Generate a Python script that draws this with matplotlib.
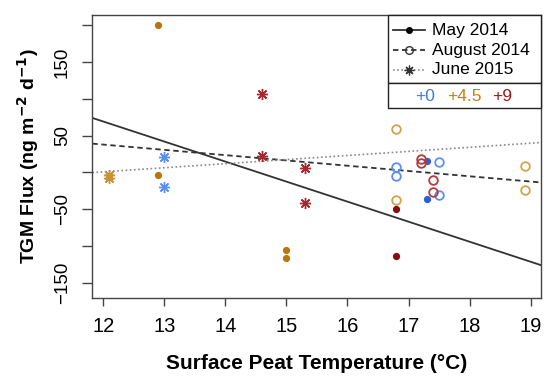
"""TGM flux vs surface peat temperature, three campaigns, three warming levels."""
import matplotlib
matplotlib.use("Agg")
import matplotlib.pyplot as plt
import numpy as np
from matplotlib.lines import Line2D
from matplotlib.patches import Rectangle

plt.rcParams["font.family"] = ["Liberation Sans", "DejaVu Sans"]

# -----------------------------------------------------------------------------
# Data
# -----------------------------------------------------------------------------
treatments = ["+0", "+4.5", "+9"]

# May 2014 (filled dots)
may_x = {"+0": [17.3, 17.3], "+4.5": [12.9, 12.9, 15.0, 15.0], "+9": [16.8, 16.8]}
may_y = {"+0": [15.4, -36.3], "+4.5": [200, -3, -106, -117], "+9": [-49.5, -114]}

# August 2014 (open circles)
aug_x = {"+0": [16.8, 16.8, 17.5, 17.5], "+4.5": [16.8, 16.8, 18.9, 18.9],
         "+9": [17.2, 17.2, 17.4, 17.4]}
aug_y = {"+0": [7, -5.5, 13.6, -31], "+4.5": [59, -38, 9, -24],
         "+9": [17.5, 13, -10, -26.5]}

# June 2015 (asterisks)
jun_x = {"+0": [13.0, 13.0], "+4.5": [12.1, 12.1], "+9": [14.6, 14.6, 15.3, 15.3]}
jun_y = {"+0": [20.4, -19.6], "+4.5": [-3, -8], "+9": [107, 22, 6, -42]}

campaigns = ["May 2014", "August 2014", "June 2015"]

# colours per treatment, per campaign marker style
col_filled = {"+0": "#2b5fd9", "+4.5": "#b9760f", "+9": "#8b0b0b"}
col_open = {"+0": "#5d90ee", "+4.5": "#d4a24a", "+9": "#b23c3c"}
col_star = {"+0": "#5d90ee", "+4.5": "#c99235", "+9": "#a8282e"}
col_text = {"+0": "#3d7ae6", "+4.5": "#c0811c", "+9": "#9c1a1a"}

STAR = (8, 2, 0)

fig = plt.figure(figsize=(5.44, 3.80), dpi=100)
ax = fig.add_axes([0.1697, 0.2158, 0.8248, 0.7447])

# -----------------------------------------------------------------------------
# Points
# -----------------------------------------------------------------------------
for t in treatments:
    ax.plot(may_x[t], may_y[t], "o", ms=4.2, color=col_filled[t], mec=col_filled[t],
            ls="none", zorder=3)
    ax.plot(aug_x[t], aug_y[t], "o", ms=6.2, mfc="none", mec=col_open[t], mew=1.3,
            ls="none", zorder=3)
    ax.plot(jun_x[t], jun_y[t], marker=STAR, ms=8, color=col_star[t], mew=1.0,
            ls="none", zorder=3)
    ax.plot(jun_x[t], jun_y[t], "o", ms=2.5, color=col_star[t], ls="none", zorder=3)

# -----------------------------------------------------------------------------
# Per-campaign linear fits
# -----------------------------------------------------------------------------
def fit(xd, yd):
    xs = np.concatenate([xd[t] for t in treatments])
    ys = np.concatenate([yd[t] for t in treatments])
    b, a = np.polyfit(xs, ys, 1)
    return a, b

line_styles = [
    dict(color="#333333", lw=1.3, ls="-"),
    dict(color="#333333", lw=1.3, ls=(0, (3, 2))),
    dict(color="#8a8a8a", lw=1.2, ls=(0, (1, 1.5))),
]
for (xd, yd), st in zip([(may_x, may_y), (aug_x, aug_y), (jun_x, jun_y)], line_styles):
    a, b = fit(xd, yd)
    ax.axline((0, a), slope=b, zorder=2, **st)

# -----------------------------------------------------------------------------
# Axes
# -----------------------------------------------------------------------------
ax.set_xlim(11.82, 19.17)
ax.set_ylim(-171, 214)
ax.set_xticks(np.arange(12, 20))
yt = np.arange(-150, 201, 50)
ax.set_yticks(yt)
ax.set_yticklabels(["\u2212150" if v == -150 else "\u221250" if v == -50 else str(v)
                    if v in (50, 150) else "" for v in yt],
                   rotation=90, va="center")
ax.tick_params(axis="x", length=6, width=1.0, color="#444444", pad=8, labelsize=14.5)
ax.tick_params(axis="y", length=7.5, width=1.0, color="#444444", pad=8, labelsize=13.5)
for s in ax.spines.values():
    s.set_color("#444444")
    s.set_linewidth(1.0)

ax.set_xlabel("Surface Peat Temperature (\u00b0C)", fontsize=15, fontweight="bold",
              labelpad=13)
ax.set_ylabel("TGM Flux (ng m$^{\\mathbf{-2}}$ d$^{\\mathbf{-1}}$)", fontsize=14,
              fontweight="bold", labelpad=9)

# -----------------------------------------------------------------------------
# Legend (drawn by hand to mimic the boxed R legend)
# -----------------------------------------------------------------------------
tr = ax.transAxes
ax.add_patch(Rectangle((0.658, 0.7587), 0.342, 0.2413, transform=tr, fill=True,
                       fc="white", ec="#222222", lw=1.0, zorder=5, clip_on=False))
ax.add_patch(Rectangle((0.658, 0.670), 0.342, 0.0887, transform=tr, fill=True,
                       fc="white", ec="#222222", lw=1.0, zorder=5, clip_on=False))

leg_y = [0.947, 0.876, 0.807]
leg_markers = [dict(marker="o", ms=4, mfc="black", mec="black"),
               dict(marker="o", ms=5.5, mfc="none", mec="#333333", mew=1.0),
               dict(marker=STAR, ms=7, color="#333333", mew=0.9)]
for name, yy, st, mk in zip(campaigns, leg_y, line_styles, leg_markers):
    ax.add_line(Line2D([0.6695, 0.7415], [yy, yy], transform=tr, zorder=6,
                       clip_on=False, **st))
    ax.add_line(Line2D([0.7055], [yy], transform=tr, zorder=7, clip_on=False,
                       ls="none", **mk))
    ax.text(0.7564, yy, name, transform=tr, fontsize=12.5, va="center", ha="left",
            zorder=7)

for t, xx in zip(treatments, [0.719, 0.790, 0.890]):
    ax.text(xx, 0.712, t, transform=tr, fontsize=12.5, va="center", ha="left",
            color=col_text[t], zorder=7)

fig.savefig("out.png", dpi=100)
